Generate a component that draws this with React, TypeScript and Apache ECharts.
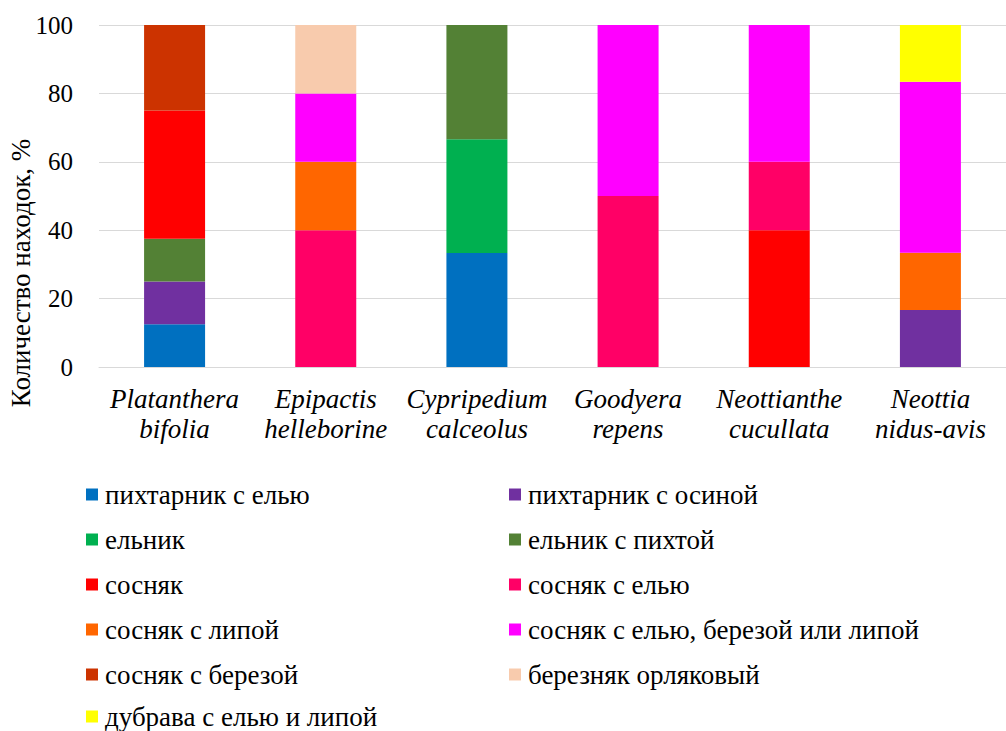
import React, { useEffect, useRef } from "react";
import * as echarts from "echarts";

const categories = [
  "Platanthera\nbifolia",
  "Epipactis\nhelleborine",
  "Cypripedium\ncalceolus",
  "Goodyera\nrepens",
  "Neottianthe\ncucullata",
  "Neottia\nnidus-avis",
];

const seriesNames = [
  "пихтарник с елью",
  "пихтарник с осиной",
  "ельник",
  "ельник с пихтой",
  "сосняк",
  "сосняк с елью",
  "сосняк с липой",
  "сосняк с елью, березой или липой",
  "сосняк с березой",
  "березняк орляковый",
  "дубрава с елью и липой",
];

const seriesColors = [
  "#0070C0",
  "#7030A0",
  "#00B050",
  "#538135",
  "#FF0000",
  "#FF0066",
  "#FF6600",
  "#FF00FF",
  "#CC3300",
  "#F8CBAD",
  "#FFFF00",
];

const v_pihtElyu = [12.5, 0, 33.3, 0, 0, 0];
const v_pihtOsina = [12.5, 0, 0, 0, 0, 16.7];
const v_elnik = [0, 0, 33.3, 0, 0, 0];
const v_elnikPihta = [12.5, 0, 33.4, 0, 0, 0];
const v_sosnyak = [37.5, 0, 0, 0, 40, 0];
const v_sosnyakEl = [0, 40, 0, 50, 20, 0];
const v_sosnyakLipa = [0, 20, 0, 0, 0, 16.7];
const v_sosnyakMix = [0, 20, 0, 50, 40, 50];
const v_sosnyakBereza = [25, 0, 0, 0, 0, 0];
const v_bereznyak = [0, 20, 0, 0, 0, 0];
const v_dubrava = [0, 0, 0, 0, 0, 16.6];

const seriesValues = [
  v_pihtElyu,
  v_pihtOsina,
  v_elnik,
  v_elnikPihta,
  v_sosnyak,
  v_sosnyakEl,
  v_sosnyakLipa,
  v_sosnyakMix,
  v_sosnyakBereza,
  v_bereznyak,
  v_dubrava,
];

const yTicks = { min: 0, max: 100, interval: 20 };
const yTitle = "Количество находок, %";

const FONT = "Times New Roman, Liberation Serif, DejaVu Serif, serif";

export default function App() {
  const ref = useRef<HTMLDivElement>(null);
  useEffect(() => {
    if (!ref.current) return;
    const chart = echarts.init(ref.current, undefined, { renderer: "svg" });
    const rowCenters = [492, 537, 582, 627, 672, 714];
    const colLefts = [86, 509];
    const legends = seriesNames.map((name, i) => ({
      orient: "horizontal" as const,
      icon: "rect",
      itemWidth: 12,
      itemHeight: 12,
      padding: 0,
      selectedMode: false,
      left: colLefts[i % 2],
      top: rowCenters[Math.floor(i / 2)] - 11,
      textStyle: { fontFamily: FONT, fontSize: 27, color: "#000", lineHeight: 22, padding: [0, 0, 0, 2] },
      data: [name],
    }));
    chart.setOption({
      animation: false,
      textStyle: { fontFamily: FONT },
      grid: { left: 99, top: 25, width: 922, height: 342 },
      legend: legends,
      graphic: [
        {
          type: "text",
          x: 7,
          y: 273,
          rotation: Math.PI / 2,
          style: {
            text: yTitle,
            fontFamily: FONT,
            fontSize: 27,
            fill: "#000",
            align: "center",
            verticalAlign: "top",
          },
        },
      ],
      xAxis: {
        type: "category",
        data: categories,
        axisLine: { lineStyle: { color: "#D9D9D9" } },
        axisTick: { show: false },
        axisLabel: {
          fontFamily: FONT,
          fontStyle: "italic",
          fontSize: 27,
          color: "#000",
          lineHeight: 30,
          margin: 17,
          interval: 0,
        },
      },
      yAxis: {
        type: "value",
        min: yTicks.min,
        max: yTicks.max,
        interval: yTicks.interval,
        axisLine: { show: false },
        axisTick: { show: false },
        splitLine: { lineStyle: { color: "#D9D9D9" } },
        axisLabel: { fontFamily: FONT, fontSize: 25, color: "#000", margin: 26 },
      },
      series: seriesNames.map((name, i) => ({
        name,
        type: "bar",
        stack: "total",
        barWidth: 61,
        itemStyle: { color: seriesColors[i] },
        data: seriesValues[i],
      })),
    });
    return () => chart.dispose();
  }, []);
  return (
    <div
      ref={ref}
      style={{ position: "fixed", left: 0, top: 0, width: 1006, height: 731, background: "#fff" }}
    />
  );
}
